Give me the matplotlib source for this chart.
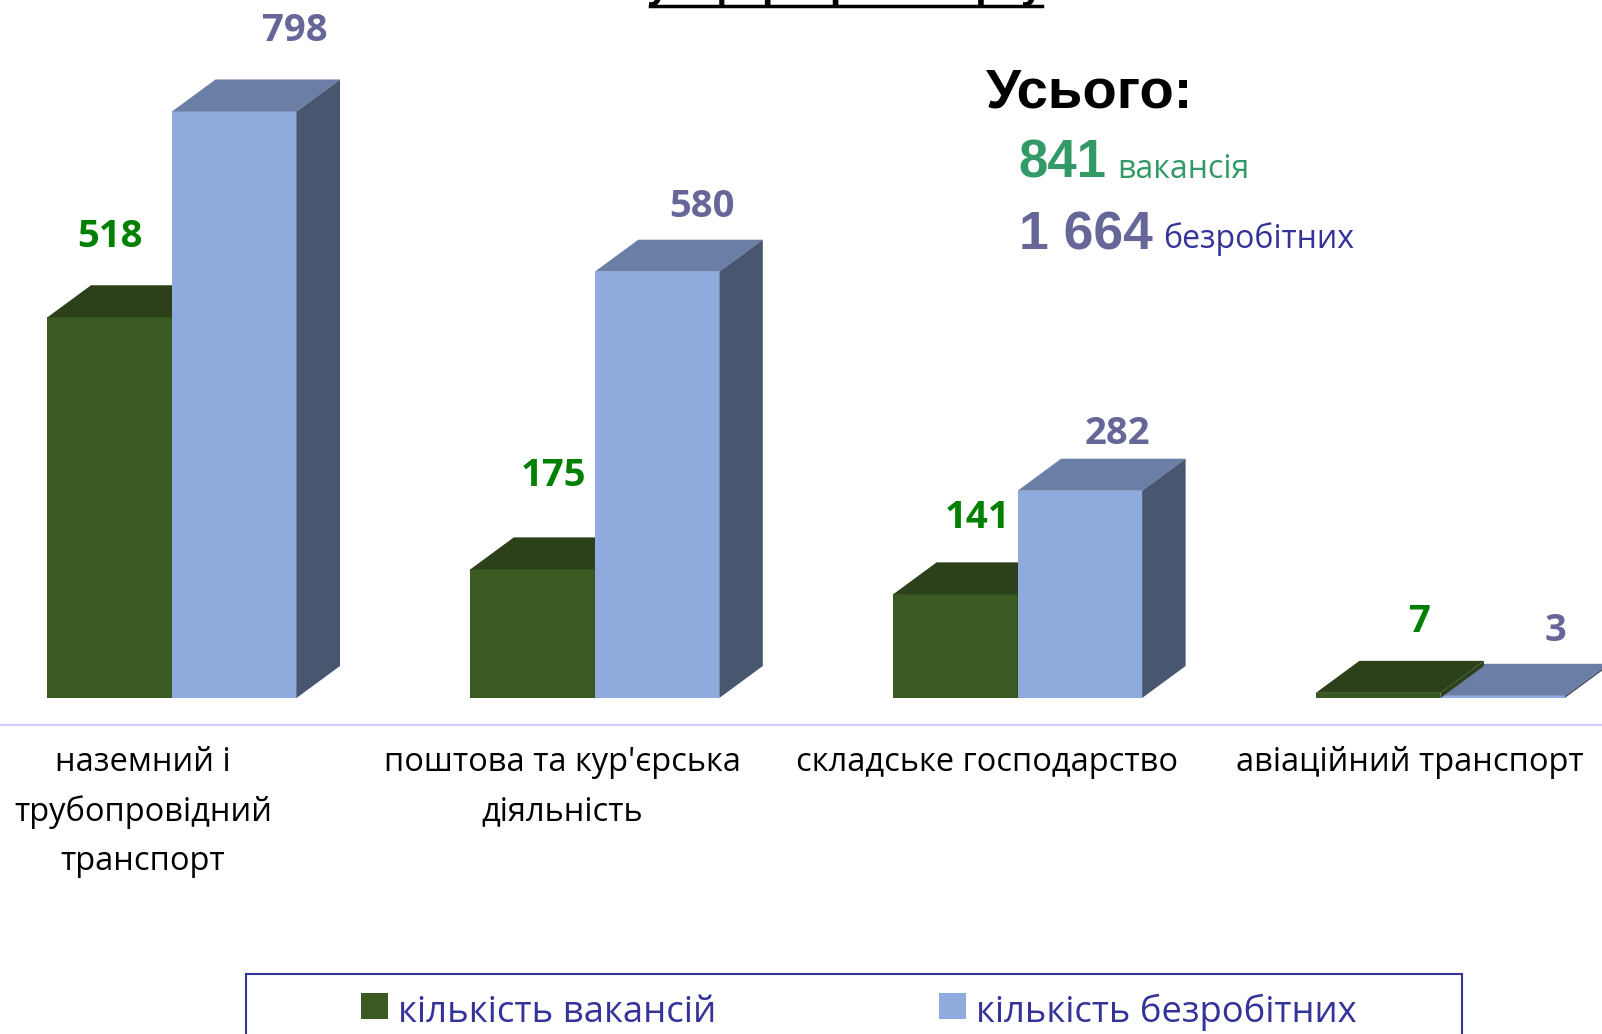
import matplotlib
matplotlib.use('agg')
import matplotlib.pyplot as plt
from matplotlib.patches import Polygon, Rectangle

categories = ['наземний і\nтрубопровідний\nтранспорт', "поштова та кур'єрська\nдіяльність",
              'складське господарство', 'авіаційний транспорт']
vacancies = [518, 175, 141, 7]
unemployed = [798, 580, 282, 3]
series_names = ['кількість вакансій', 'кількість безробітних']
title = 'у сфері транспорту'
total_head = 'Усього:'
total_vac = '841'
total_vac_word = 'вакансія'
total_unemp = '1 664'
total_unemp_word = 'безробітних'

W, H = 1602, 1034
BODY = ['Open Sans', 'Noto Sans']
ARIAL = 'Liberation Sans'

# pixels per unit on both axes
PX_Y = 0.735
PX_X = 422.8
BASE_Y = 698
bar_w = 124.5 / PX_X
dx = 43.5 / PX_X
dy = 32 / PX_Y

fig = plt.figure(figsize=(W / 100, H / 100), dpi=100, facecolor='white')
ax = fig.add_axes([0, 0, 1, 1])
ax.set_xlim(-172 / PX_X, (W - 172) / PX_X)
ax.set_ylim(-(H - BASE_Y) / PX_Y, BASE_Y / PX_Y)
ax.axis('off')


def bar3d(x, val, front, top, side, z):
    ax.bar(x, val, width=bar_w, align='edge', color=front, linewidth=0, zorder=z)
    ax.add_patch(Polygon([(x, val), (x + dx, val + dy), (x + bar_w + dx, val + dy), (x + bar_w, val)],
                         closed=True, facecolor=top, edgecolor='none', zorder=z))
    ax.add_patch(Polygon([(x + bar_w, 0), (x + bar_w + dx, dy), (x + bar_w + dx, val + dy), (x + bar_w, val)],
                         closed=True, facecolor=side, edgecolor='none', zorder=z))


green = ('#3b5a22', '#2c4019', '#2c4019')
blue = ('#8faadc', '#6b7fa6', '#48566f')
# label shifts from the bar's front top centre, in pixels
vac_off = [(0, 80), (21, 93), (22, 76), (42, 71)]
unemp_off = [(61, 80), (45, 65), (38, 57), (53, 65)]

for i in range(len(categories)):
    zg = 4 if vacancies[i] > unemployed[i] else 2
    bar3d(i - bar_w, vacancies[i], *green, zg)
    bar3d(i, unemployed[i], *blue, 3)
    ax.annotate(str(vacancies[i]), (i - bar_w / 2, vacancies[i]), xytext=vac_off[i], textcoords='offset pixels',
                ha='center', va='center', color='#008000', fontsize=27.5, fontweight='bold', family=BODY)
    ax.annotate(str(unemployed[i]), (i + bar_w / 2, unemployed[i]), xytext=unemp_off[i], textcoords='offset pixels',
                ha='center', va='center', color='#666699', fontsize=27.5, fontweight='bold', family=BODY)


def px_text(x, y, s, **kw):
    fig.text(x / W, 1 - y / H, s, **kw)


# separator under the bars
fig.add_artist(plt.Line2D([0, 1], [1 - 725 / H] * 2, color='#ccccff', lw=1.5))

# category labels
label_x = [143, 562, 987, 1410]
for x, c in zip(label_x, categories):
    px_text(x, 746, c, ha='center', va='top', fontsize=23.5, color='black', family=BODY, linespacing=1.64)

# title, cut off by the top edge
px_text(845, -2, title, ha='center', va='baseline', fontsize=29.5, fontweight='bold', family=ARIAL, color='black')
fig.add_artist(plt.Line2D([650 / W, 1042 / W], [1 - 5.5 / H] * 2, color='black', lw=2.5))

# totals
px_text(986, 108, total_head, ha='left', va='baseline', fontsize=40.5, fontweight='bold', family=ARIAL, color='black')
px_text(1018, 178, total_vac, ha='left', va='baseline', fontsize=38, fontweight='bold', family=ARIAL, color='#339966')
px_text(1117, 178, total_vac_word, ha='left', va='baseline', fontsize=23, family=BODY, color='#339966')
px_text(1019, 249, total_unemp, ha='left', va='baseline', fontsize=38.5, fontweight='bold', family=ARIAL, color='#666699')
px_text(1163, 248, total_unemp_word, ha='left', va='baseline', fontsize=23, family=BODY, color='#333399')

# legend box runs off the bottom edge
fig.add_artist(Rectangle((246 / W, -0.02), 1216 / W, 1 - 974 / H + 0.02, transform=fig.transFigure,
                         facecolor='none', edgecolor='#333399', lw=1.5))
fig.add_artist(Rectangle((361 / W, 1 - 1019 / H), 27 / W, 26 / H, transform=fig.transFigure,
                         facecolor=green[0], edgecolor='none'))
fig.add_artist(Rectangle((939 / W, 1 - 1019 / H), 27 / W, 26 / H, transform=fig.transFigure,
                         facecolor=blue[0], edgecolor='none'))
px_text(398, 1022, series_names[0], ha='left', va='baseline', fontsize=26.4, family=BODY, color='#333399')
px_text(976, 1022, series_names[1], ha='left', va='baseline', fontsize=26.2, family=BODY, color='#333399')

fig.savefig('out.png', dpi=100, facecolor='white')
